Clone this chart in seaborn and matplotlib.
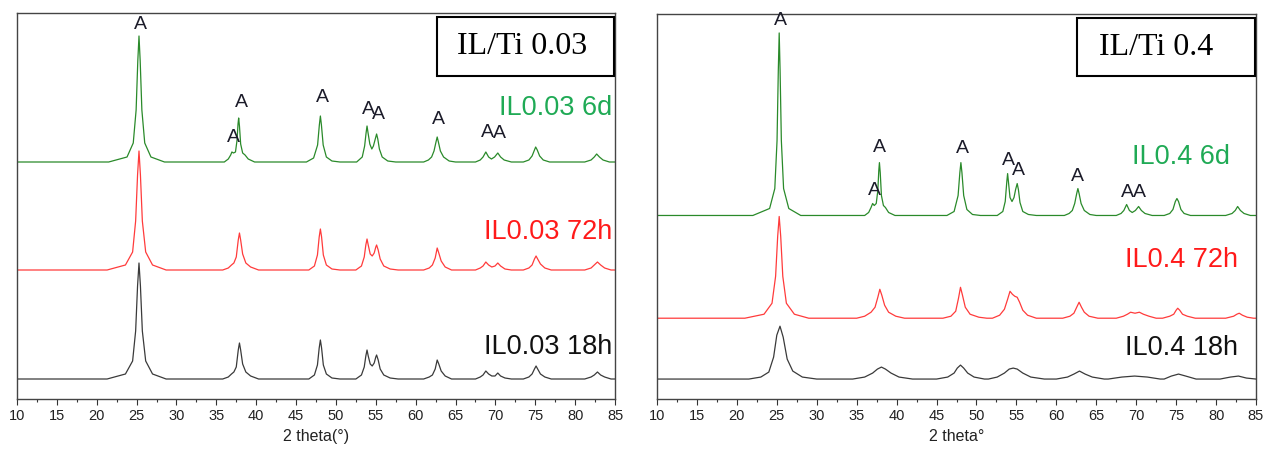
import matplotlib
matplotlib.use('Agg')
import matplotlib.pyplot as plt
from matplotlib.patches import Rectangle
from matplotlib.ticker import MultipleLocator
import pandas as pd
import seaborn as sns

# ---- data (2 theta in degrees, intensity in a.u. above each baseline) ----
# IL/Ti 0.03 panel
tt_003_6d = [10, 21.5, 23.8, 24.58, 24.94, 25.15, 25.3, 25.45, 25.66, 26.02, 26.8, 28.5,
             36.0, 36.5, 36.8, 36.95, 37.15, 37.4, 37.6, 37.72, 37.8, 37.9, 38.05, 38.3, 38.6, 39.0, 39.8,
             46.3, 47.2, 47.7, 47.92, 48.05, 48.18, 48.4, 48.8, 49.5, 50.5,
             52.6, 53.3, 53.6, 53.78, 53.9, 54.03, 54.25, 54.5, 54.7, 54.9, 55.1, 55.25, 55.45, 55.8, 56.5, 57.5,
             61.0, 61.6, 62.0, 62.3, 62.55, 62.7, 62.85, 63.1, 63.5, 64.2, 65.0,
             67.5, 68.1, 68.45, 68.8, 69.15, 69.5, 69.9, 70.3, 70.65, 71.1, 72.0,
             73.5, 74.2, 74.6, 74.9, 75.05, 75.25, 75.55, 76.0, 76.8,
             81.2, 82.0, 82.4, 82.7, 83.05, 83.5, 84.3, 85]
int_003_6d = [0, 0, 5, 19, 52, 101, 126, 101, 52, 19, 5, 0,
              0, 3, 7, 10, 9, 10, 22, 38, 44, 36, 18, 9, 7, 3, 0,
              0, 4, 17, 37, 46, 37, 17, 5, 1, 0,
              0, 5, 16, 29, 36, 29, 18, 13, 16, 22, 28, 23, 13, 5, 1, 0,
              0, 2, 5, 11, 20, 25, 20, 11, 5, 1, 0,
              0, 2, 5, 10, 5, 3, 5, 9, 5, 2, 0,
              0, 2, 6, 12, 15, 12, 6, 2, 0,
              0, 2, 5, 8, 5, 2, 0, 0]

tt_003_72h = [10, 21.3, 23.6, 24.5, 24.88, 25.12, 25.3, 25.48, 25.72, 26.14, 27.0, 28.7,
              35.8, 36.5, 36.9, 37.2, 37.5, 37.75, 37.9, 38.05, 38.3, 38.7, 39.3, 40.3,
              46.6, 47.3, 47.68, 47.9, 48.05, 48.2, 48.42, 48.8, 49.5, 50.5,
              52.5, 53.2, 53.55, 53.75, 53.9, 54.05, 54.3, 54.55, 54.8, 55.0, 55.1, 55.3, 55.55, 56.0, 56.8, 57.8,
              61.0, 61.7, 62.1, 62.45, 62.7, 62.9, 63.2, 63.7, 64.5,
              67.5, 68.1, 68.45, 68.8, 69.15, 69.55, 69.95, 70.3, 70.65, 71.2, 72.0,
              73.5, 74.2, 74.6, 74.9, 75.1, 75.3, 75.65, 76.2, 77.0,
              81.2, 82.0, 82.4, 82.8, 83.2, 83.7, 84.5, 85]
int_003_72h = [0, 0, 5, 18, 49, 95, 119, 95, 49, 18, 5, 0,
               0, 2, 5, 7, 13, 30, 37, 30, 16, 7, 3, 0,
               0, 4, 15, 33, 41, 33, 15, 5, 1, 0,
               0, 4, 13, 25, 31, 25, 16, 14, 17, 23, 25, 20, 11, 4, 1, 0,
               0, 2, 5, 12, 22, 17, 9, 3, 0,
               0, 2, 4, 8, 5, 3, 4, 7, 4, 1, 0,
               0, 2, 5, 11, 14, 11, 6, 2, 0,
               0, 2, 5, 8, 5, 2, 0, 0]

tt_003_18h = tt_003_72h
int_003_18h = [0, 0, 5, 18, 48, 93, 116, 93, 48, 18, 5, 0,
               0, 2, 5, 7, 12, 29, 36, 29, 15, 7, 3, 0,
               0, 4, 14, 31, 39, 31, 14, 5, 1, 0,
               0, 4, 12, 23, 29, 23, 15, 13, 16, 22, 24, 19, 10, 4, 1, 0,
               0, 2, 4, 10, 19, 15, 8, 3, 0,
               0, 2, 4, 8, 5, 3, 3, 6, 3, 1, 0,
               0, 2, 5, 10, 13, 10, 5, 2, 0,
               0, 2, 4, 7, 4, 2, 0, 0]

# IL/Ti 0.4 panel
tt_04_6d = [10, 22.0, 24.1, 24.75, 25.03, 25.19, 25.3, 25.41, 25.57, 25.85, 26.5, 28.0,
            36.0, 36.5, 36.8, 37.0, 37.2, 37.45, 37.65, 37.77, 37.85, 37.95, 38.1, 38.35, 38.6, 39.0, 39.8,
            46.3, 47.2, 47.7, 47.92, 48.05, 48.18, 48.4, 48.8, 49.5, 50.5,
            52.6, 53.3, 53.6, 53.8, 53.9, 54.0, 54.2, 54.45, 54.7, 54.9, 55.1, 55.25, 55.45, 55.8, 56.5, 57.5,
            61.0, 61.6, 62.0, 62.3, 62.55, 62.7, 62.85, 63.1, 63.5, 64.2, 65.0,
            67.5, 68.1, 68.45, 68.8, 69.15, 69.5, 69.9, 70.3, 70.65, 71.1, 72.0,
            73.5, 74.2, 74.6, 74.9, 75.1, 75.3, 75.6, 76.0, 76.8,
            81.2, 82.0, 82.4, 82.7, 83.05, 83.5, 84.3, 85]
int_04_6d = [0, 0, 7, 27, 75, 146, 183, 146, 75, 27, 7, 0,
             0, 3, 8, 12, 10, 12, 25, 45, 53, 43, 20, 10, 8, 3, 0,
             0, 4, 20, 43, 53, 43, 20, 6, 1, 0,
             0, 4, 14, 34, 42, 34, 18, 14, 18, 26, 32, 26, 13, 4, 1, 0,
             0, 2, 5, 12, 22, 27, 22, 12, 5, 1, 0,
             0, 2, 5, 11, 5, 3, 5, 9, 5, 2, 0,
             0, 2, 6, 14, 17, 14, 6, 2, 0,
             0, 2, 5, 9, 5, 2, 0, 0]

tt_04_72h = [10, 21.0, 23.4, 24.4, 24.85, 25.11, 25.3, 25.49, 25.75, 26.2, 27.2, 29.0,
             35.0, 36.0, 36.8, 37.3, 37.65, 37.9, 38.15, 38.5, 39.0, 39.9, 41.0,
             45.8, 46.8, 47.4, 47.75, 48.0, 48.25, 48.6, 49.2, 50.3, 51.3,
             52.0, 52.9, 53.5, 53.9, 54.2, 54.5, 54.8, 55.1, 55.4, 55.8, 56.4, 57.5,
             60.8, 61.7, 62.2, 62.55, 62.85, 63.15, 63.5, 64.1, 65.2,
             67.5, 68.4, 68.9, 69.3, 69.85, 70.4, 70.9, 71.6, 72.5,
             73.3, 74.2, 74.7, 75.0, 75.2, 75.45, 75.8, 76.4, 77.4,
             81.2, 82.2, 82.6, 82.9, 83.3, 83.9, 84.7, 85]
int_04_72h = [0, 0, 4, 15, 42, 82, 102, 82, 42, 15, 4, 0,
              0, 2, 6, 11, 21, 29, 23, 13, 6, 2, 0,
              0, 2, 7, 20, 31, 23, 11, 4, 1, 0,
              0, 3, 9, 19, 27, 24, 22, 21, 16, 8, 3, 0,
              0, 2, 5, 11, 16, 11, 6, 2, 0,
              0, 2, 4, 6, 5, 6, 4, 2, 0,
              0, 2, 4, 8, 10, 8, 4, 2, 0,
              0, 2, 4, 5, 3, 1, 0, 0]

tt_04_18h = [10, 21.5, 23.0, 24.0, 24.6, 25.0, 25.4, 25.8, 26.3, 27.0, 28.2, 30.0,
             34.5, 36.0, 37.0, 37.6, 38.1, 38.6, 39.3, 40.3, 42.0,
             45.0, 46.4, 47.2, 47.6, 48.0, 48.4, 48.9, 49.7, 51.0,
             51.5, 52.6, 53.5, 54.1, 54.6, 55.1, 55.8, 56.8, 58.5,
             60.0, 61.4, 62.2, 62.9, 63.6, 64.5, 66.0,
             66.5, 68.2, 69.8, 71.4, 73.0,
             73.5, 74.4, 75.3, 76.2, 77.5,
             80.5, 81.8, 82.8, 83.8, 85]
int_04_18h = [0, 0, 2, 7, 22, 44, 53, 42, 20, 8, 2, 0,
              0, 2, 6, 10, 12, 10, 6, 2, 0,
              0, 2, 6, 11, 14, 11, 6, 2, 0,
              0, 2, 6, 10, 11, 10, 6, 2, 0,
              0, 2, 5, 8, 5, 2, 0,
              0, 2, 3, 2, 0,
              0, 3, 5, 3, 0,
              0, 2, 3, 1, 0]

samples_003 = ['IL0.03 18h', 'IL0.03 72h', 'IL0.03 6d']
samples_04 = ['IL0.4 18h', 'IL0.4 72h', 'IL0.4 6d']

# anatase reflections marked "A": 2 theta and label height (same units as the stacked plot)
a_tt_003 = [25.43, 37.09, 38.09, 48.25, 54.02, 55.28, 62.8, 68.95, 70.45]
a_y_003 = [374, 261, 296, 301, 289, 284, 279, 266, 265]
a_tt_04 = [25.4, 37.17, 37.8, 48.2, 53.95, 55.2, 62.7, 68.85, 70.35]
a_y_04 = [379, 209, 252, 251, 239, 229, 223, 207, 207]

# ---- styling ----
offsets_003 = [20, 129, 237]
offsets_04 = [20, 81, 184]
line_colors = ['#3a3a3a', '#ff3b3b', '#2a8a2a']
label_colors = ['#111111', '#ff1a1a', '#1faa55']

sns.set_theme(style='ticks')
plt.rcParams['font.family'] = ['Liberation Sans', 'DejaVu Sans']


def stack(series, names, offsets):
    frames = []
    for (tt, inten), name, off in zip(series, names, offsets):
        frames.append(pd.DataFrame({'two_theta': tt,
                                    'intensity': [v + off for v in inten],
                                    'sample': name}))
    return pd.concat(frames, ignore_index=True)


df_003 = stack([(tt_003_18h, int_003_18h), (tt_003_72h, int_003_72h), (tt_003_6d, int_003_6d)],
               samples_003, offsets_003)
df_04 = stack([(tt_04_18h, int_04_18h), (tt_04_72h, int_04_72h), (tt_04_6d, int_04_6d)],
              samples_04, offsets_04)

fig = plt.figure(figsize=(12.68, 4.53), dpi=100)
ax1 = fig.add_axes([17 / 1268, 54 / 453, 598 / 1268, 386 / 453])
ax2 = fig.add_axes([657 / 1268, 54 / 453, 599 / 1268, 385 / 453])

panels = [
    (ax1, df_003, samples_003, a_tt_003, a_y_003, 'IL/Ti 0.03', '2 theta(°)',
     0.995, 'right', [0.135, 0.433, 0.754], 0.845),
    (ax2, df_04, samples_04, a_tt_04, a_y_04, 'IL/Ti 0.4', '2 theta°',
     0.875, 'center', [0.1325, 0.361, 0.629], 0.833),
]

for ax, df, names, att, ay, box_txt, xlab, lx, lha, ly, bx in panels:
    sns.lineplot(data=df, x='two_theta', y='intensity', hue='sample', hue_order=names,
                 palette=line_colors, estimator=None, sort=False, lw=0.9, legend=False, ax=ax)
    ax.set_xlim(10, 85)
    ax.set_ylim(0, 386)
    ax.set_yticks([])
    ax.set_ylabel('')
    ax.xaxis.set_major_locator(MultipleLocator(5))
    ax.xaxis.set_minor_locator(MultipleLocator(2.5))
    ax.tick_params(axis='x', which='major', length=4.5, width=0.8, pad=3, labelsize=10.5, colors='#333333')
    ax.tick_params(axis='x', which='minor', length=2.5, width=0.8, colors='#333333')
    ax.tick_params(axis='x', labelcolor='#222222')
    for sp in ax.spines.values():
        sp.set_visible(True)
        sp.set_color('#444444')
        sp.set_linewidth(1.0)
    ax.set_xlabel(xlab, fontsize=11.5, labelpad=4, color='#222222')

    for x, y in zip(att, ay):
        ax.text(x, y, 'A', ha='center', va='center', fontsize=14, color='#1c1c2a')

    for name, col, yy in zip(names, label_colors, ly):
        ax.text(lx, yy, name, transform=ax.transAxes, ha=lha, va='center',
                fontsize=19.5, color=col)

    ax.add_patch(Rectangle((0.702, 0.838), 0.296, 0.151, transform=ax.transAxes,
                           facecolor='white', edgecolor='black', lw=1.5, zorder=5, clip_on=False))
    ax.text(bx, 0.913, box_txt, transform=ax.transAxes, ha='center', va='center',
            fontsize=23, family=['Liberation Serif', 'DejaVu Serif'], color='black', zorder=6)

fig.savefig('out.png', dpi=100)
